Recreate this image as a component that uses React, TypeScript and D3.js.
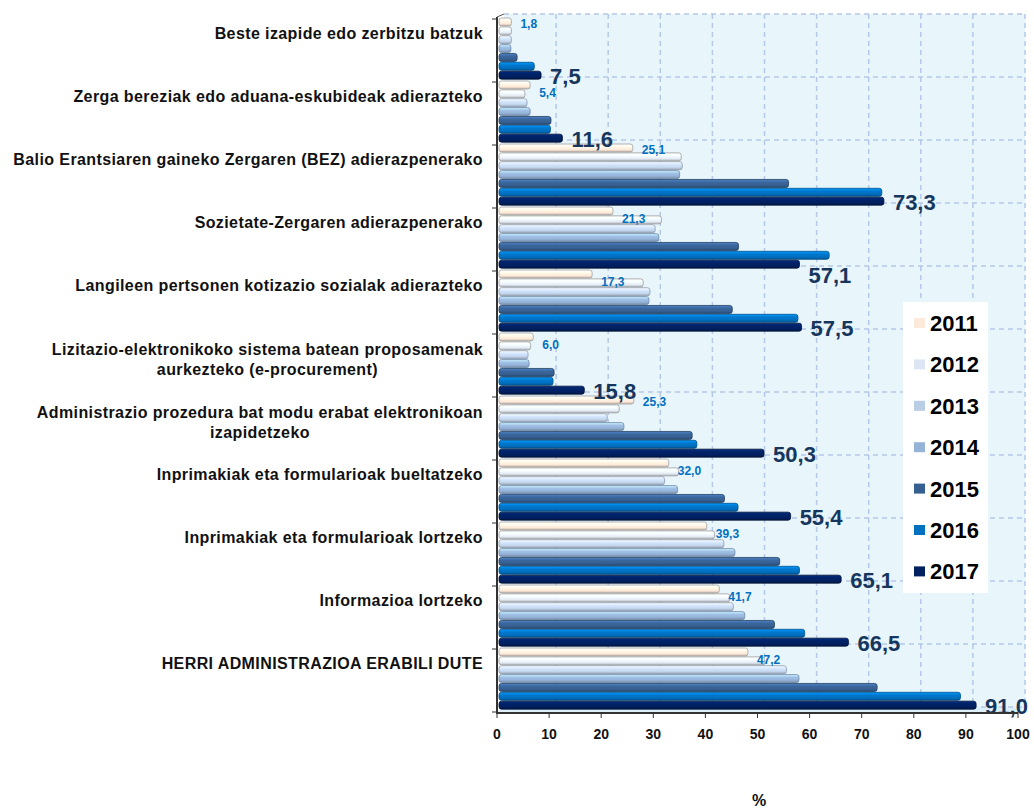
import React from "react";
import * as d3 from "d3";

const categories = [
  "Beste izapide edo zerbitzu batzuk",
  "Zerga bereziak edo aduana-eskubideak adierazteko",
  "Balio Erantsiaren gaineko Zergaren (BEZ) adierazpenerako",
  "Sozietate-Zergaren adierazpenerako",
  "Langileen pertsonen kotizazio sozialak adierazteko",
  "Lizitazio-elektronikoko sistema batean proposamenak\naurkezteko (e-procurement)",
  "Administrazio prozedura bat modu erabat elektronikoan\nizapidetzeko",
  "Inprimakiak eta formularioak bueltatzeko",
  "Inprimakiak eta formularioak lortzeko",
  "Informazioa lortzeko",
  "HERRI ADMINISTRAZIOA ERABILI DUTE",
];

const years = ["2011", "2012", "2013", "2014", "2015", "2016", "2017"];

const values2011 = [1.8, 5.4, 25.1, 21.3, 17.3, 6.0, 25.3, 32.0, 39.3, 41.7, 47.2];
const values2012 = [1.8, 4.4, 34.4, 30.6, 27.1, 5.5, 22.5, 33.9, 40.8, 43.7, 50.4];
const values2013 = [1.8, 4.8, 34.6, 29.4, 28.4, 5.0, 20.2, 31.2, 42.6, 44.4, 54.6];
const values2014 = [1.7, 5.4, 34.1, 30.1, 28.2, 5.2, 23.4, 33.7, 44.7, 46.6, 57.0];
const values2015 = [2.9, 9.4, 55.0, 45.4, 44.2, 10.0, 36.5, 42.7, 53.3, 52.3, 72.0];
const values2016 = [6.2, 9.3, 72.9, 62.8, 56.8, 9.8, 37.4, 45.3, 57.1, 58.1, 88.0];
const values2017 = [7.5, 11.6, 73.3, 57.1, 57.5, 15.8, 50.3, 55.4, 65.1, 66.5, 91.0];

const xTicks = [0, 10, 20, 30, 40, 50, 60, 70, 80, 90, 100];
const axisTitle = "%";

const series = [values2011, values2012, values2013, values2014, values2015, values2016, values2017];
const colors = ["#FDE9D9", "#E6EDF7", "#C5D7EE", "#95B3D7", "#376092", "#0070C0", "#002060"];
const legendColors = ["#FDE9D9", "#DCE6F2", "#B9CDE5", "#95B3D7", "#376092", "#0070C0", "#002060"];
const strokes = ["#A0A0A0", "#9A9A9A", "#8E99A8", "#7088A8", "#243F60", "#00508A", "#001030"];

const FONT = "'Liberation Sans', Arial, Helvetica, sans-serif";

function fmt(v: number) {
  return v.toFixed(1).replace(".", ",");
}

function measure(text: string, font: string) {
  const c = document.createElement("canvas");
  const ctx = c.getContext("2d")!;
  ctx.font = font;
  return ctx.measureText(text).width;
}

export default function App() {
  const W = 1034;
  const H = 812;
  const x = d3.scaleLinear().domain([0, 100]).range([497, 1018]);
  const y = d3.scaleBand<string>().domain(categories).range([19, 712]).padding(0);
  const yi = d3.scaleBand<string>().domain(years).range([-1, 60.5]).paddingInner(0.06);
  const DX = 7;
  const DY = -5;
  const bottom = 712;
  const top = 19;
  const LS = 0.4;

  const labelFont = `bold 16px ${FONT}`;
  const bigFont = `bold 22px ${FONT}`;

  const bigLabelEnd = (ci: number) => {
    const v = values2017[ci];
    return x(v) + 14 + measure(fmt(v), bigFont);
  };

  return (
    <svg
      width={W}
      height={H}
      style={{ position: "absolute", left: 0, top: 0, background: "#fff" }}
      fontFamily={FONT}
    >
      <defs>
        {colors.map((c, i) => {
          const base = d3.color(c)!;
          return (
            <linearGradient key={i} id={`g${i}`} x1="0" y1="0" x2="0" y2="1">
              <stop offset="0%" stopColor={base.brighter(0.9).formatHex()} />
              <stop offset="35%" stopColor={base.brighter(0.2).formatHex()} />
              <stop offset="70%" stopColor={c} />
              <stop offset="100%" stopColor={base.darker(0.7).formatHex()} />
            </linearGradient>
          );
        })}
      </defs>

      {/* back wall */}
      <rect x={x(0) + DX} y={top + DY} width={x(100) - x(0)} height={bottom - top} fill="#E8F6FC" />
      {/* floor */}
      <polygon
        points={`${x(0)},${bottom} ${x(0) + DX},${bottom + DY} ${x(100) + DX},${bottom + DY} ${x(100)},${bottom}`}
        fill="#DDEFF8"
      />
      {/* vertical grid */}
      {xTicks.slice(1).map((t) => (
        <line
          key={`vg${t}`}
          x1={x(t) + DX}
          x2={x(t) + DX}
          y1={top + DY}
          y2={bottom + DY}
          stroke="#B4C8E8"
          strokeWidth={1.5}
          strokeDasharray="5,4"
        />
      ))}
      {/* horizontal grid */}
      {[...categories.map((c) => y(c)!), bottom].map((yy, i) => (
        <line
          key={`hg${i}`}
          x1={x(0) + DX}
          x2={x(100) + DX}
          y1={yy + DY}
          y2={yy + DY}
          stroke="#B4C8E8"
          strokeWidth={1.5}
          strokeDasharray="5,4"
        />
      ))}

      {/* bars */}
      {categories.map((c, ci) =>
        years.map((yr, si) => {
          const v = series[si][ci];
          const by = y(c)! + yi(yr)!;
          const bh = 8;
          const x0 = x(0) + 2;
          const x1 = x(v) + 5;
          return (
            <rect
              key={`b${ci}-${si}`}
              x={x0}
              y={by}
              width={x1 - x0}
              height={bh}
              rx={2.5}
              fill={`url(#g${si})`}
              stroke={strokes[si]}
              strokeWidth={0.8}
            />
          );
        })
      )}

      {/* value labels 2011 */}
      {categories.map((c, ci) => {
        const v = values2011[ci];
        const lx = x(v) + 5 + 9;
        const clash = ci > 0 && lx < bigLabelEnd(ci - 1) - 10;
        const by = y(c)! + yi("2011")! + 4 + 2 + (clash ? 6 : 0);
        return (
          <text
            key={`l11${ci}`}
            x={lx}
            y={by}
            dy="0.35em"
            fontSize={12}
            fontWeight="bold"
            fill="#0070C0"
          >
            {fmt(v)}
          </text>
        );
      })}
      {/* value labels 2017 */}
      {categories.map((c, ci) => {
        const v = values2017[ci];
        const extra = values2016[ci] > v + 3 ? 10 : 0;
        const by = y(c)! + yi("2017")! + 4 + 1 + extra;
        return (
          <text
            key={`l17${ci}`}
            x={x(v) + 5 + 9}
            y={by}
            dy="0.36em"
            fontSize={22}
            fontWeight="bold"
            fill="#17365D"
          >
            {fmt(v)}
          </text>
        );
      })}

      {/* axes */}
      <line x1={x(0)} x2={x(0)} y1={top - 2} y2={bottom + 2} stroke="#333" strokeWidth={2} />
      <line x1={x(0)} x2={x(0) + DX} y1={top - 2} y2={top + DY} stroke="#555" strokeWidth={1} />
      <line x1={x(0)} x2={x(100)} y1={bottom + 1} y2={bottom + 1} stroke="#333" strokeWidth={2} />
      {[...categories.map((c) => y(c)!), bottom].map((yy, i) => (
        <line key={`yt${i}`} x1={x(0) - 5} x2={x(0)} y1={yy} y2={yy} stroke="#333" strokeWidth={1} />
      ))}
      {xTicks.map((t) => (
        <g key={`xt${t}`}>
          <line x1={x(t)} x2={x(t)} y1={bottom + 1} y2={bottom + 6} stroke="#333" strokeWidth={1} />
          <text
            x={x(t)}
            y={739}
            textAnchor="middle"
            fontSize={14}
            fontWeight="bold"
            fill="#111"
          >
            {t}
          </text>
        </g>
      ))}
      <text x={759} y={806} textAnchor="middle" fontSize={16} fontWeight="bold" fill="#111">
        {axisTitle}
      </text>

      {/* category labels */}
      {categories.map((c, ci) => {
        const lines = c.split("\n");
        const t = y(c)!;
        if (lines.length === 1) {
          return (
            <text
              key={`cl${ci}`}
              x={483}
              y={t + 14.5}
              dy="0.35em"
              textAnchor="end"
              fontSize={16}
              fontWeight="bold"
              letterSpacing={LS}
              fill="#111"
            >
              {c}
            </text>
          );
        }
        const w1 = measure(lines[0], labelFont) + lines[0].length * LS;
        const cx = 483 - w1 / 2;
        return (
          <text
            key={`cl${ci}`}
            textAnchor="middle"
            fontSize={16}
            fontWeight="bold"
            letterSpacing={LS}
            fill="#111"
          >
            {lines.map((ln, li) => (
              <tspan key={li} x={cx} y={t + 15 + li * 20} dy="0.35em">
                {ln}
              </tspan>
            ))}
          </text>
        );
      })}

      {/* legend */}
      <rect x={903} y={302} width={85} height={291} fill="#fff" />
      {years.map((yr, i) => {
        const cy = 323 + i * 41.4;
        return (
          <g key={`lg${yr}`}>
            <rect x={914} y={cy - 5} width={11} height={10} fill={legendColors[i]} />
            <text x={930} y={cy} dy="0.36em" fontSize={22} fontWeight="bold" fill="#000">
              {yr}
            </text>
          </g>
        );
      })}
    </svg>
  );
}
